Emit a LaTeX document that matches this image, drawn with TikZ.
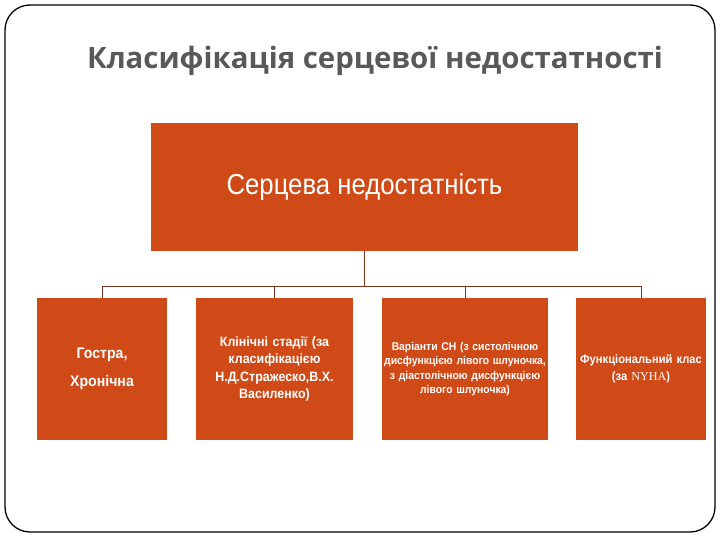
\documentclass[tikz,border=0pt]{standalone}
\usepackage{fontspec}
\newfontfamily\titlefont{Open Sans}
\newfontfamily\narrowfont{Liberation Sans}[FakeStretch=0.89]
\newfontfamily\boldnarrowfont{Liberation Sans}[FakeStretch=0.92]
\newfontfamily\nyhafont{Liberation Serif}
\usetikzlibrary{positioning}
\definecolor{boxred}{RGB}{208,74,24}
\definecolor{linebrown}{RGB}{120,52,28}
\definecolor{titlegray}{RGB}{89,89,89}

\begin{document}
\begin{tikzpicture}[x=1bp, y=-1bp,
        redbox/.style={fill=boxred, inner sep=0pt, text=white, align=center},
        small/.style={redbox, minimum height=142bp},
        conn/.style={draw=linebrown, line width=0.8bp}]
        \useasboundingbox (0, 0) rectangle (720, 540);
        \draw[line width=1.3bp, rounded corners=25bp] (5, 5) rectangle (715, 532);
        \node[text=titlegray, font=\titlefont\bfseries\fontsize{29.5}{34}\selectfont] (title) at (375, 61) {Класифікація серцевої недостатності};
        \node[redbox, minimum width=427bp, minimum height=128bp, font=\narrowfont\fontsize{29}{34}\selectfont] (heart) at (364.5, 187) {Серцева недостатність};
        \node[small, minimum width=130bp, text width=124bp, font=\boldnarrowfont\bfseries\fontsize{15.4}{27.5}\selectfont] (acute) at (102, 369) {Гостра,\\Хронічна};
        \node[small, minimum width=157bp, text width=153bp, font=\boldnarrowfont\bfseries\fontsize{13.6}{17.5}\selectfont] (stages) at (274.5, 369) {Клінічні стадії (за\\класифікацією\\Н.Д.Стражеско,В.Х.\\Василенко)};
        \node[small, minimum width=166bp, text width=165bp, font=\boldnarrowfont\bfseries\fontsize{11.3}{14.5}\selectfont] (variants) at (465, 369) {Варіанти СН (з систолічною\\дисфункцією лівого шлуночка,\\з діастолічною дисфункцією\\лівого шлуночка)};
        \node[small, minimum width=130bp, text width=128bp, font=\boldnarrowfont\bfseries\fontsize{12.2}{17}\selectfont] (nyha) at (641, 369) {Функціональний клас\\(за {\nyhafont\mdseries NYHA})};
        \coordinate (bus) at (364.5, 286);
        \draw[conn] (heart.south) -- (bus);
        \draw[conn] (bus -| acute.north) -- (bus -| nyha.north);
        \foreach \c in {acute, stages, variants, nyha}
            \draw[conn] (bus -| \c.north) -- (\c.north);
    \end{tikzpicture}
\end{document}
